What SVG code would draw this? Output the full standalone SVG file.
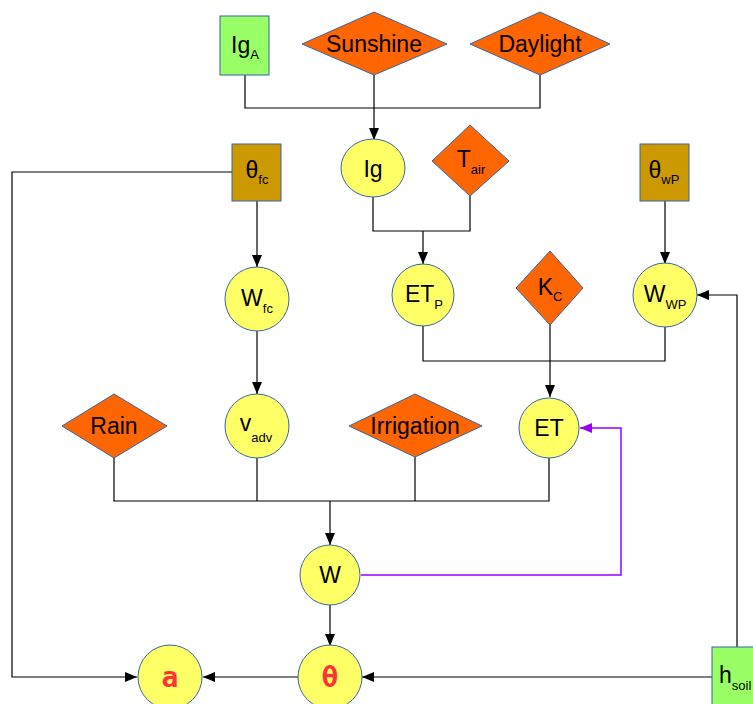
<svg xmlns="http://www.w3.org/2000/svg" width="753" height="704" viewBox="0 0 753 704">
<defs>
<marker id="ah" viewBox="0 0 12 10" refX="12" refY="5" markerWidth="12" markerHeight="10" markerUnits="userSpaceOnUse" orient="auto">
<path d="M0,0 L12,5 L0,10 Z" fill="#000"/>
</marker>
<marker id="ahp" viewBox="0 0 12 10" refX="12" refY="5" markerWidth="12" markerHeight="10" markerUnits="userSpaceOnUse" orient="auto">
<path d="M0,0 L12,5 L0,10 Z" fill="#9900ff"/>
</marker>
</defs>
<style>
.green{fill:#99ff66;stroke:#3465a4;stroke-width:1}
.brown{fill:#cc9900;stroke:#3465a4;stroke-width:1}
.orange{fill:#ff6600;stroke:#3465a4;stroke-width:1}
.yellow{fill:#ffff66;stroke:#3465a4;stroke-width:1}
text{font-family:"Liberation Sans",Arial,sans-serif;font-size:23px;fill:#000;text-anchor:middle}
.sub{font-size:13px}
.start{text-anchor:start}
.red{font-family:"DejaVu Sans Mono","Liberation Mono",monospace;font-weight:bold;fill:#ff3333;font-size:28px}
.c{fill:none;stroke:#000;stroke-width:1.2}
.p{fill:none;stroke:#9900ff;stroke-width:1.5}
</style>
<rect width="753" height="704" fill="#fff"/>
<g id="connectors">
<polyline class="c" points="245,75 245,108 540,108 540,75"/>
<polyline class="c" points="374,75 374,140" marker-end="url(#ah)"/>
<polyline class="c" points="373,197 373,231 470,231 470,196"/>
<polyline class="c" points="423,231 423,264" marker-end="url(#ah)"/>
<polyline class="c" points="232,172 12,172 12,677 137,677" marker-end="url(#ah)"/>
<polyline class="c" points="257,201 257,267" marker-end="url(#ah)"/>
<polyline class="c" points="257,330 257,394" marker-end="url(#ah)"/>
<polyline class="c" points="665,201 665,264" marker-end="url(#ah)"/>
<polyline class="c" points="737,647 737,295 697,295" marker-end="url(#ah)"/>
<polyline class="c" points="423,326 423,361 665,361 665,326"/>
<polyline class="c" points="550,325 550,397" marker-end="url(#ah)"/>
<polyline class="c" points="114,458 114,501 549,501 549,458"/>
<polyline class="c" points="257,458 257,501"/>
<polyline class="c" points="415,457 415,501"/>
<polyline class="c" points="330,501 330,545" marker-end="url(#ah)"/>
<polyline class="p" points="361,575 621,575 621,428 580,428" marker-end="url(#ahp)"/>
<polyline class="c" points="330,605 330,646" marker-end="url(#ah)"/>
<polyline class="c" points="298,677 203,677" marker-end="url(#ah)"/>
<polyline class="c" points="712,677 362,677" marker-end="url(#ah)"/>
</g>
<g id="IgA"><rect class="green" x="220" y="16" width="49" height="59"/><text x="245" y="53">Ig<tspan class="sub" dy="6">A</tspan></text></g>
<g id="Sunshine"><polygon class="orange" points="302,44 374,12 447,44 374,75"/><text x="374" y="52">Sunshine</text></g>
<g id="Daylight"><polygon class="orange" points="470,44 540,12 610,44 540,75"/><text x="540" y="52">Daylight</text></g>
<g id="Ig"><ellipse class="yellow" cx="373" cy="168" rx="32" ry="29"/><text x="373" y="177">Ig</text></g>
<g id="Tair"><polygon class="orange" points="432,161 470,125 509,161 470,196"/><text x="471" y="167">T<tspan class="sub" dy="7">air</tspan></text></g>
<g id="theta_fc"><rect class="brown" x="232" y="144" width="49" height="57"/><text x="257" y="178">θ<tspan class="sub" dy="6">fc</tspan></text></g>
<g id="theta_wP"><rect class="brown" x="640" y="144" width="49" height="57"/><text x="664" y="178">θ<tspan class="sub" dy="6">wP</tspan></text></g>
<g id="W_fc"><circle class="yellow" cx="257" cy="299" r="32"/><text x="257" y="306">W<tspan class="sub" dy="7">fc</tspan></text></g>
<g id="ET_P"><circle class="yellow" cx="423" cy="295" r="31"/><text x="424" y="302">ET<tspan class="sub" dy="7">P</tspan></text></g>
<g id="K_C"><polygon class="orange" points="516,288 550,251 583,288 550,325"/><text x="550" y="295">K<tspan class="sub" dy="6">C</tspan></text></g>
<g id="W_WP"><circle class="yellow" cx="665" cy="295" r="32"/><text x="665" y="302">W<tspan class="sub" dy="7">WP</tspan></text></g>
<g id="Rain"><polygon class="orange" points="62,426 114,394 167,426 114,458"/><text x="114" y="434">Rain</text></g>
<g id="v_adv"><circle class="yellow" cx="257" cy="426" r="32"/><text x="256" y="431">v<tspan class="sub" dy="11">adv</tspan></text></g>
<g id="Irrigation"><polygon class="orange" points="349,426 415,394 482,426 415,457"/><text x="415" y="434">Irrigation</text></g>
<g id="ET"><circle class="yellow" cx="549" cy="428" r="30"/><text x="549" y="436">ET</text></g>
<g id="W"><circle class="yellow" cx="330" cy="575" r="30"/><text x="330" y="583">W</text></g>
<g id="a"><circle class="yellow" cx="170" cy="677" r="32"/><text class="red" x="170" y="687">a</text></g>
<g id="theta"><circle class="yellow" cx="330" cy="677" r="32"/><text class="red" x="330" y="687">θ</text></g>
<g id="h_soil"><rect class="green" x="712" y="647" width="50" height="62"/><text class="start" x="719" y="683">h<tspan class="sub" dy="7">soil</tspan></text></g>
</svg>
